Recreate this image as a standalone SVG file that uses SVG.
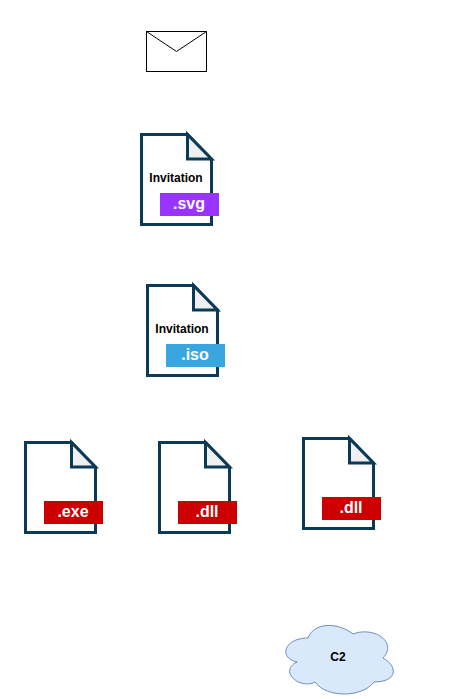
<svg xmlns="http://www.w3.org/2000/svg" width="475" height="699" viewBox="0 0 475 699">
<defs>
<style>
text{font-family:"Liberation Sans",Arial,sans-serif;font-weight:bold;text-anchor:middle}
.page{fill:#fff;stroke:#0b3a57;stroke-width:3;stroke-miterlimit:10}
.fold{fill:#f0f0f0;stroke:#0b3a57;stroke-width:3;stroke-miterlimit:10}
.name{font-size:12px;fill:#000}
.ext{font-size:16px;fill:#fff}
</style>
<g id="doc">
<path class="page" d="M0.500 0.500H46.500L70.500 25V90.500H0.500Z"/>
<path class="fold" d="M46.500 0.500V25H70.500Z"/>
</g>
</defs>
<g id="connectors"></g>
<g id="mail">
<rect x="146.500" y="31.500" width="60" height="40" fill="#fff" stroke="#000" stroke-width="1"/>
<path d="M146.500 31.500L176.500 51.500L206.500 31.500" fill="none" stroke="#000" stroke-width="1"/>
</g>
<g id="invitation-svg">
<use href="#doc" x="141" y="134"/>
<text class="name" x="176" y="182">Invitation</text>
<rect x="160" y="193" width="59" height="23" fill="#9933ff"/>
<text class="ext" x="189" y="208.500">.svg</text>
</g>
<g id="invitation-iso">
<use href="#doc" x="147" y="285"/>
<text class="name" x="182" y="333">Invitation</text>
<rect x="166" y="344" width="59" height="23" fill="#3aa6e0"/>
<text class="ext" x="195" y="359.500">.iso</text>
</g>
<g id="file-exe">
<use href="#doc" x="25" y="442"/>
<rect x="44" y="501" width="59" height="23" fill="#cc0000"/>
<text class="ext" x="73" y="516.500">.exe</text>
</g>
<g id="file-dll-1">
<use href="#doc" x="159" y="442"/>
<rect x="178" y="501" width="59" height="23" fill="#cc0000"/>
<text class="ext" x="207" y="516.500">.dll</text>
</g>
<g id="file-dll-2">
<use href="#doc" x="303" y="438"/>
<rect x="322" y="497" width="59" height="23" fill="#cc0000"/>
<text class="ext" x="351" y="512.500">.dll</text>
</g>
<g id="c2">
<path d="M308 638C284 638 278 658 297.200 662C278 670.800 299.600 690 315.200 682C326 698 362 698 374 682C398 682 398 666 383 658C398 642 374 626 353 634C338 622 314 622 308 638Z" fill="#dae8fc" stroke="#6c8ebf" stroke-width="1"/>
<text x="338" y="661" font-size="12px" fill="#000">C2</text>
</g>
</svg>
